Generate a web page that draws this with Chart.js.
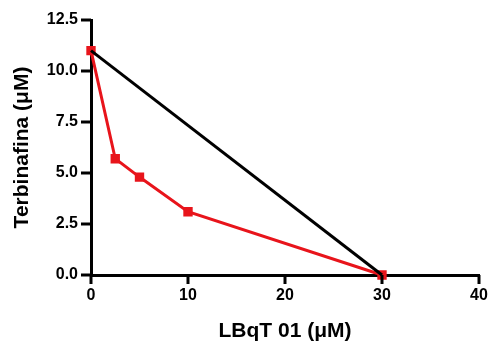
<!DOCTYPE html>
<html>
<head>
<meta charset="utf-8">
<script src="https://cdn.jsdelivr.net/npm/chart.js@4"></script>
<style>
html, body { margin: 0; padding: 0; background: #fff; }
#wrap { width: 497px; height: 342px; }
</style>
</head>
<body>
<div id="wrap"><canvas id="myChart" width="497" height="342"></canvas></div>
<script>
// data
var redX = [0, 2.5, 5, 10, 30];
var redY = [11, 5.7, 4.8, 3.1, 0];
var blackX = [0, 30];
var blackY = [11, 0];

function pts(xs, ys) {
    var out = [];
    for (let i = 0; i < xs.length; i++) out.push({x: xs[i], y: ys[i]});
    return out;
}

const tickFont = { family: 'Liberation Sans, Arial, sans-serif', size: 16, weight: 'bold' };
const titleFont = { family: 'Liberation Sans, Arial, sans-serif', size: 21, weight: 'bold' };

// outward tick marks, placed by the scales themselves
const tickMarks = {
    id: 'tickMarks',
    afterDraw(chart) {
        const ctx = chart.ctx;
        const xs = chart.scales.x, ys = chart.scales.y;
        const area = chart.chartArea;
        ctx.save();
        ctx.strokeStyle = '#000';
        ctx.lineWidth = 3;
        ctx.lineCap = 'butt';
        xs.ticks.forEach(t => {
            const px = xs.getPixelForValue(t.value);
            ctx.beginPath();
            ctx.moveTo(px, area.bottom);
            ctx.lineTo(px, area.bottom + 9);
            ctx.stroke();
        });
        ys.ticks.forEach(t => {
            const py = ys.getPixelForValue(t.value);
            ctx.beginPath();
            ctx.moveTo(area.left, py);
            ctx.lineTo(area.left - 10, py);
            ctx.stroke();
        });
        ctx.restore();
    }
};

const config = {
    type: 'line',
    data: {
        datasets: [{
            label: 'isobole',
            data: pts(blackX, blackY),
            borderColor: '#000',
            borderWidth: 3,
            pointRadius: 0,
            fill: false
        }, {
            label: 'LBqT 01 + Terbinafina',
            data: pts(redX, redY),
            borderColor: '#e8141b',
            backgroundColor: '#e8141b',
            borderWidth: 3,
            pointStyle: 'rect',
            pointRadius: 4.5,
            fill: false
        }]
    },
    options: {
        responsive: false,
        animation: false,
        clip: false,
        layout: { padding: { left: 0, right: 18, top: 20, bottom: 0 } },
        plugins: { legend: { display: false }, tooltip: { enabled: false } },
        scales: {
            x: {
                type: 'linear',
                min: 0, max: 40,
                ticks: { stepSize: 10, color: '#000', font: tickFont, padding: 3 },
                grid: { drawOnChartArea: false, color: '#000', tickLength: 8 },
                border: { color: '#000', width: 3 },
                title: { display: true, text: 'LBqT 01 (μM)', color: '#000', font: titleFont,
                    padding: { top: 4, bottom: -2 } },
                afterFit: function(s) { s.height = 67; }
            },
            y: {
                type: 'linear',
                min: 0, max: 12.5,
                ticks: { stepSize: 2.5, color: '#000', font: tickFont, padding: 5,
                    callback: function(v) { return v.toFixed(1); } },
                grid: { drawOnChartArea: false, color: '#000', tickLength: 8 },
                border: { color: '#000', width: 3 },
                title: { display: true, text: 'Terbinafina (μM)', color: '#000', font: titleFont,
                    padding: { top: 10, bottom: 4 } },
                afterFit: function(s) { s.width = 91; }
            }
        }
    },
    plugins: [tickMarks]
};
const myChart = new Chart(document.getElementById('myChart'), config);
</script>
</body>
</html>
